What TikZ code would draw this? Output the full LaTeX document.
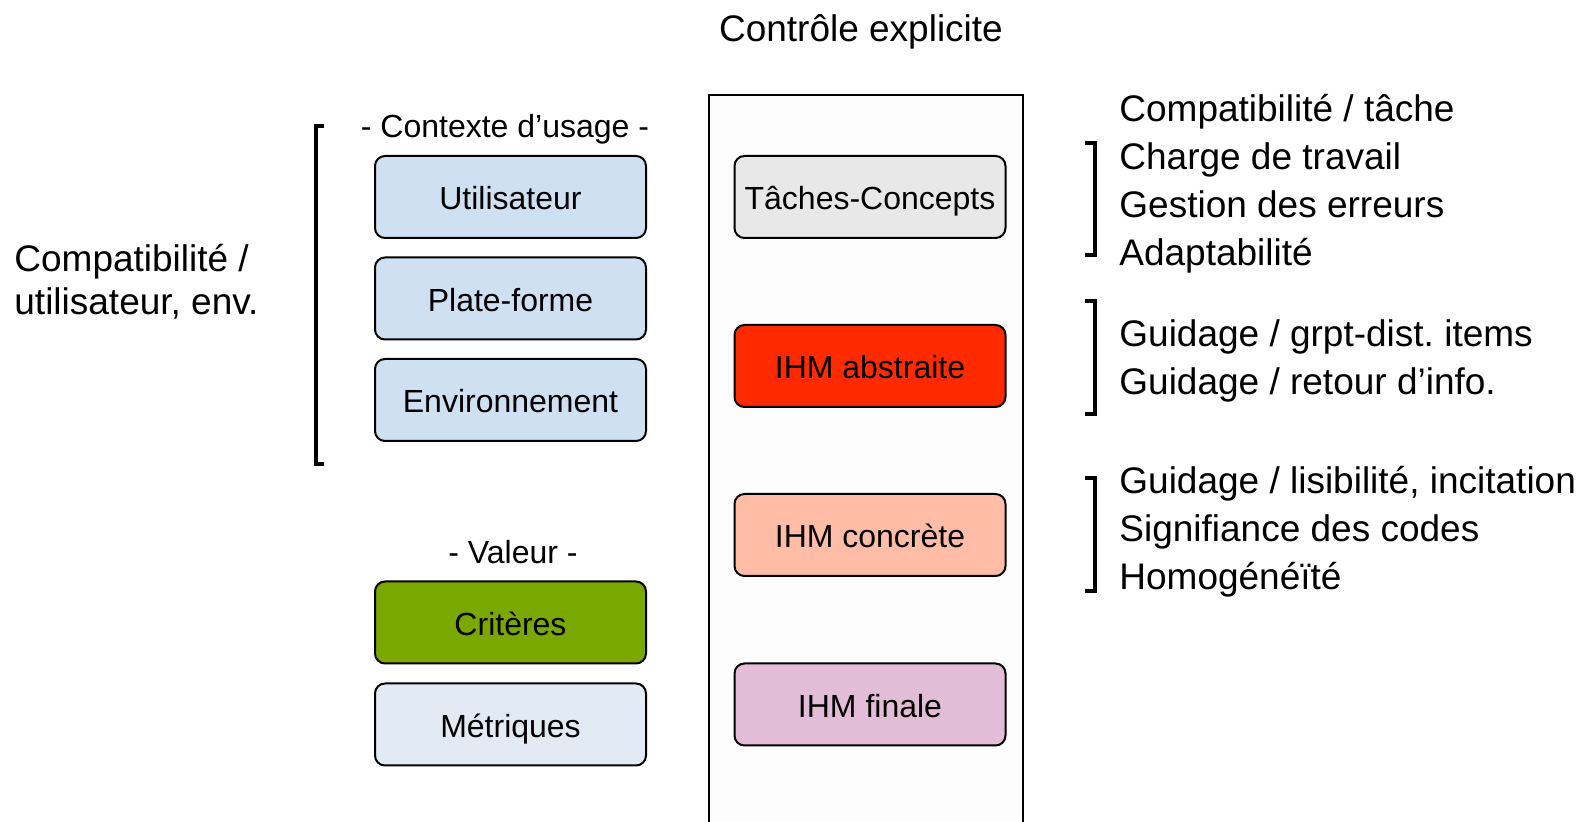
\documentclass[tikz,border=0pt]{standalone}
\usepackage{fontspec}
\setmainfont{Liberation Sans}
\frenchspacing
\definecolor{cblue}{HTML}{CFE0F2}
\definecolor{cgreen}{HTML}{7AA800}
\definecolor{cpale}{HTML}{E2EAF4}
\definecolor{cgrey}{HTML}{E8E8E8}
\definecolor{cred}{HTML}{FF2A00}
\definecolor{csalmon}{HTML}{FFBDA8}
\definecolor{cpink}{HTML}{E3BCD8}
\definecolor{ccol}{HTML}{FCFCFC}
\begin{document}
\begin{tikzpicture}[x=0.5pt,y=-0.5pt,
  box/.style={draw=black,line width=1pt,rounded corners=5pt,minimum width=135.5pt,minimum height=41pt,inner sep=0pt,text height=13pt,text depth=0pt,font=\fontsize{16}{19}\selectfont},
  lbl/.style={font=\fontsize{18.5}{24}\selectfont,inner sep=0pt,align=left},
  sub/.style={font=\fontsize{16}{19}\selectfont,inner sep=0pt,text height=11.5pt,text depth=0pt},
  brk/.style={line width=2pt}]
\useasboundingbox (0,0) rectangle (1585,822);
% column
\draw[line width=1pt,fill=ccol] (709,900) -- (709,95) -- (1023,95) -- (1023,900);
\node[lbl] (title) at (861,32) {Contrôle explicite};
% left boxes
\node[sub] (ctx) at (505,126) {- Contexte d’usage -};
\node[box,fill=cblue] (util) at (510.5,197) {Utilisateur};
\node[box,fill=cblue] (plat) at (510.5,298.5) {Plate-forme};
\node[box,fill=cblue] (env) at (510.5,400) {Environnement};
\node[sub] (val) at (513,552) {- Valeur -};
\node[box,fill=cgreen] (crit) at (510.5,622.5) {Critères};
\node[box,fill=cpale] (metr) at (510.5,724.5) {Métriques};
% right boxes
\node[box,fill=cgrey] (tach) at (870,197) {Tâches-Concepts};
\node[box,fill=cred] (abst) at (870,366) {IHM abstraite};
\node[box,fill=csalmon] (conc) at (870,535) {IHM concrète};
\node[box,fill=cpink] (fin) at (870,704.5) {IHM finale};
% left bracket and text
\draw[brk] (324,126) -- (316,126) -- (316,464) -- (324,464);
\node[lbl,anchor=west,font=\fontsize{18.5}{21.5}\selectfont] (cu) at (14,281.5) {Compatibilité /\\utilisateur, env.};
% right brackets and texts
\draw[brk] (1085,143) -- (1095,143) -- (1095,255) -- (1085,255);
\draw[brk] (1085,301) -- (1095,301) -- (1095,414) -- (1085,414);
\draw[brk] (1085,478) -- (1095,478) -- (1095,591) -- (1085,591);
\node[lbl,anchor=west] (g1) at (1119,184) {Compatibilité / tâche\\Charge de travail\\Gestion des erreurs\\Adaptabilité};
\node[lbl,anchor=west] (g2) at (1119,360.5) {Guidage / grpt-dist. items\\Guidage / retour d’info.};
\node[lbl,anchor=west] (g3) at (1119,532) {Guidage / lisibilité, incitation\\Signifiance des codes\\Homogénéïté};
\end{tikzpicture}
\end{document}
